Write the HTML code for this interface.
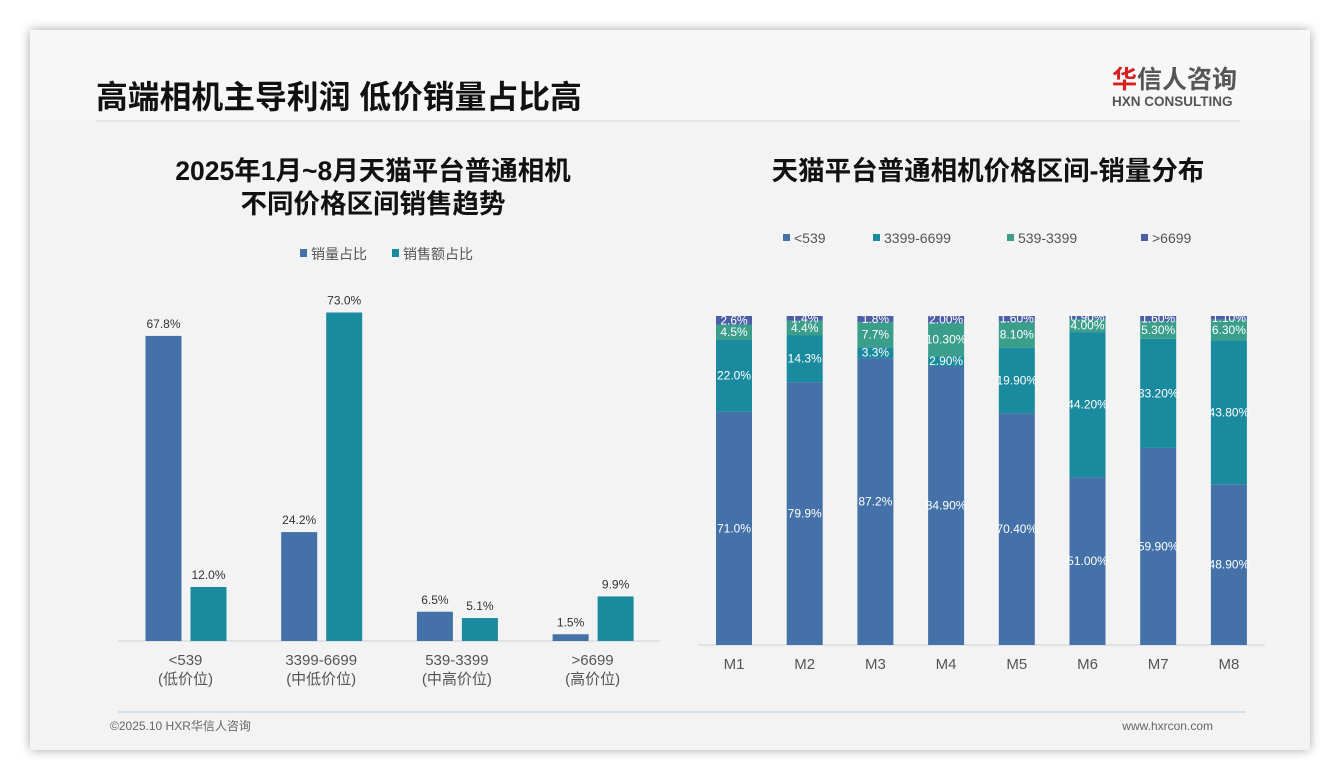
<!DOCTYPE html>
<html><head><meta charset="utf-8"><style>
body{margin:0;width:1340px;height:780px;background:#fff;overflow:hidden;font-family:"Liberation Sans","Noto Sans CJK SC",sans-serif}
#card{position:absolute;left:30px;top:30px;width:1280px;height:720px;background:#f3f3f4;box-shadow:0 0 10px rgba(0,0,0,.35)}
#hdr{position:absolute;left:0;top:0;width:1280px;height:90px;background:#f7f7f7}
</style></head><body>
<div id="card"><div id="hdr"></div></div>
<svg width="1340" height="780" style="position:absolute;left:0;top:0" font-family="Liberation Sans, Noto Sans CJK SC, sans-serif">
<text x="96" y="108" font-size="31.8" font-weight="bold" fill="#111">高端相机主导利润 低价销量占比高</text>
<line x1="96" y1="121" x2="1240" y2="121" stroke="#dcdcdc"/>
<g>
<text x="1112" y="88" font-size="25" font-weight="bold" fill="#555"><tspan fill="#d42020">华</tspan>信人咨询</text>
<text x="1112" y="106" font-size="13.5" font-weight="bold" fill="#555">HXN CONSULTING</text></g>
<text x="373" y="180" text-anchor="middle" font-size="26.5" font-weight="bold" fill="#111">2025年1月~8月天猫平台普通相机</text>
<text x="373" y="213" text-anchor="middle" font-size="26.5" font-weight="bold" fill="#111">不同价格区间销售趋势</text>
<text x="988" y="180" text-anchor="middle" font-size="26.5" font-weight="bold" fill="#111">天猫平台普通相机价格区间-销量分布</text>
<g id="left"></g><g id="right"></g>
<line x1="118" y1="712" x2="1246" y2="712" stroke="#b8cde0"/>
<text x="110" y="730" font-size="12" fill="#666">©2025.10 HXR华信人咨询</text>
<text x="1213" y="730" text-anchor="end" font-size="12" fill="#666">www.hxrcon.com</text>
</svg>
<script>
const leftCats=["<539","3399-6699","539-3399",">6699"];
const leftSub=["(低价位)","(中低价位)","(中高价位)","(高价位)"];
const volShare=[67.8,24.2,6.5,1.5];
const salesShare=[12.0,73.0,5.1,9.9];
const months=["M1","M2","M3","M4","M5","M6","M7","M8"];
const sLow=[71.0,79.9,87.2,84.9,70.4,51.0,59.9,48.9];
const sMidLow=[22.0,14.3,3.3,2.9,19.9,44.2,33.2,43.8];
const sMidHigh=[4.5,4.4,7.7,10.3,8.1,4.0,5.3,6.3];
const sHigh=[2.6,1.4,1.8,2.0,1.6,0.9,1.6,1.1];
const lowLbl=["71.0%","79.9%","87.2%","84.90%","70.40%","51.00%","59.90%","48.90%"];
const midLowLbl=["22.0%","14.3%","3.3%","2.90%","19.90%","44.20%","33.20%","43.80%"];
const midHighLbl=["4.5%","4.4%","7.7%","10.30%","8.10%","4.00%","5.30%","6.30%"];
const highLbl=["2.6%","1.4%","1.8%","2.00%","1.60%","0.90%","1.60%","1.10%"];
const NS="http://www.w3.org/2000/svg";
function mk(p,t,a,txt){const e=document.createElementNS(NS,t);for(const k in a)e.setAttribute(k,a[k]);if(txt!=null)e.textContent=txt;p.appendChild(e);return e;}
const L=document.getElementById('left');
const base=641,ks=4.5,g0=185.5,gs=135.7;
const ly=v=>base-v*ks;
mk(L,'line',{x1:118,y1:base,x2:660,y2:base,stroke:'#d0d0d0'});
[[305,'#4472a8','销量占比'],[397,'#1a8a9e','销售额占比']].forEach(([x,c,t])=>{
 const g=mk(L,'g',{});
 
 
 mk(g,'rect',{x:x-5,y:249,width:7,height:8,fill:c});mk(g,'text',{x:x+6,y:259,'font-size':14,fill:'#555'},t);});
leftCats.forEach((c,i)=>{
 const cx=g0+i*gs;
 [[volShare[i],cx-40,'#4472a8','bar-volume'],[salesShare[i],cx+5,'#1a8a9e','bar-sales']].forEach(([v,x,col,n])=>{
  const r=mk(L,'rect',{x:x,y:ly(v),width:36,height:v*ks,fill:col});
  
  
  mk(L,'text',{x:x+18,y:ly(v)-8,'text-anchor':'middle','font-size':12,fill:'#333'},v.toFixed(1)+'%');});
 mk(L,'text',{x:cx,y:665,'text-anchor':'middle','font-size':15,fill:'#555'},c);
 mk(L,'text',{x:cx,y:684,'text-anchor':'middle','font-size':15,fill:'#555'},leftSub[i]);
});
const R=document.getElementById('right');
const rb=645,rt=316,rx0=734,rxs=70.7,bw=36;
const ry=v=>(rb-rt)*v/100;
mk(R,'line',{x1:698,y1:rb,x2:1265,y2:rb,stroke:'#d0d0d0'});
const series=[[sLow,lowLbl,'#4472a8','<539'],[sMidLow,midLowLbl,'#1a8a9e','3399-6699'],[sMidHigh,midHighLbl,'#3a9e8a','539-3399'],[sHigh,highLbl,'#4d5ea8','>6699']];
const lgx=[788,878,1012,1146];
series.forEach((s,k)=>{
 const g=mk(R,'g',{});
 
 
 mk(g,'rect',{x:lgx[k]-5,y:234,width:7,height:7,fill:s[2]});mk(g,'text',{x:lgx[k]+6,y:243,'font-size':14,fill:'#555'},s[3]);});
months.forEach((m,i)=>{
 const cx=rx0+i*rxs;let acc=0;
 const tot=series.reduce((a,s)=>a+s[0][i],0);
 series.forEach((s,k)=>{
  const v=s[0][i]*100/tot,h=ry(v),y=rb-ry(acc)-h;
  const r=mk(R,'rect',{x:cx-bw/2,y:y,width:bw,height:h,fill:s[2]});
  
  
  mk(R,'text',{x:cx,y:y+h/2+4,'text-anchor':'middle','font-size':12,fill:'#fff'},s[1][i]);
  acc+=v;});
 mk(R,'text',{x:cx,y:669,'text-anchor':'middle','font-size':15,fill:'#555'},m);
});
</script>
</body></html>
